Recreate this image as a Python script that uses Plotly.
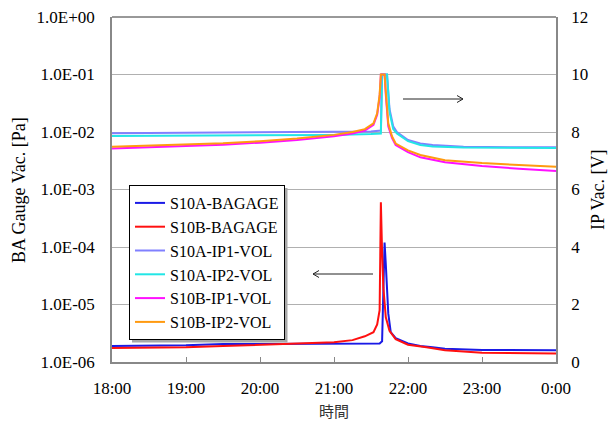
import plotly.graph_objects as go

# ---------------- data ----------------
a_ba_t = ["18:00", "18:30", "19:00", "19:30", "20:00", "20:30", "21:00", "21:30", "21:37", "21:39",
          "21:40", "21:41", "21:42", "21:43", "21:44", "21:46", "21:50", "22:00", "22:10", "22:20",
          "22:30", "23:00", "23:30", "24:00"]
a_ba_v = [1.9e-6, 1.9e-6, 1.95e-6, 2.05e-6, 2.05e-6, 2.05e-6, 2.08e-6, 2.1e-6, 2.1e-6, 2.3e-6,
          1.1e-5, 1.2e-4, 5e-5, 1.5e-5, 7e-6, 3.3e-6, 2.6e-6, 2.1e-6, 1.9e-6, 1.8e-6,
          1.7e-6, 1.62e-6, 1.6e-6, 1.6e-6]

b_ba_t = ["18:00", "18:30", "19:00", "19:30", "20:00", "20:30", "21:00", "21:15", "21:25", "21:32",
          "21:35", "21:37", "21:38", "21:39", "21:40", "21:42", "21:45", "21:50", "22:00", "22:15",
          "22:30", "23:00", "23:30", "24:00"]
b_ba_v = [1.75e-6, 1.75e-6, 1.8e-6, 1.9e-6, 2.0e-6, 2.1e-6, 2.2e-6, 2.4e-6, 2.8e-6, 3.3e-6,
          4.5e-6, 8e-6, 6.0e-4, 8e-5, 2e-5, 6e-6, 3.5e-6, 2.5e-6, 2.0e-6, 1.8e-6,
          1.6e-6, 1.45e-6, 1.42e-6, 1.4e-6]

a_ip_t = ["18:00", "19:00", "20:00", "21:00", "21:30", "21:38", "21:39", "21:43", "21:45", "21:48",
          "21:51", "22:00", "22:10", "22:20", "22:45", "23:30", "24:00"]
a_ip1_v = [7.96, 7.97, 7.98, 8.0, 8.02, 8.05, 10.0, 10.0, 8.8, 8.2,
           8.0, 7.72, 7.6, 7.55, 7.49, 7.47, 7.47]
a_ip2_v = [7.86, 7.87, 7.88, 7.9, 7.93, 7.95, 10.0, 10.0, 8.7, 8.1,
           7.95, 7.68, 7.55, 7.5, 7.46, 7.44, 7.44]

b_ip_t = ["18:00", "18:30", "19:00", "19:30", "20:00", "20:30", "21:00", "21:15", "21:25", "21:32",
          "21:35", "21:37", "21:38", "21:41", "21:42", "21:44", "21:47", "21:50", "22:00", "22:10",
          "22:30", "23:00", "23:30", "24:00"]
b_ip1_v = [7.43, 7.47, 7.51, 7.56, 7.63, 7.72, 7.85, 7.95, 8.05, 8.25,
           8.6, 9.2, 10.0, 10.0, 9.3, 8.2, 7.8, 7.55, 7.3, 7.12,
           6.95, 6.82, 6.72, 6.64]
b_ip2_v = [7.49, 7.53, 7.57, 7.61, 7.68, 7.77, 7.9, 8.0, 8.1, 8.3,
           8.65, 9.3, 10.0, 10.0, 9.4, 8.3, 7.85, 7.6, 7.36, 7.2,
           7.02, 6.92, 6.85, 6.79]

x_ticks = ["18:00", "19:00", "20:00", "21:00", "22:00", "23:00", "0:00"]
y_left_ticks = ["1.0E-06", "1.0E-05", "1.0E-04", "1.0E-03", "1.0E-02", "1.0E-01", "1.0E+00"]
y_right_ticks = ["0", "2", "4", "6", "8", "10", "12"]


def hrs(lst):
    out = []
    for s in lst:
        h, m = s.split(":")
        out.append(int(h) - 18 + int(m) / 60.0)
    return out


# ---------------- layout geometry ----------------
W, H = 610, 422
L, R, T, B = 112, 556, 17, 362
PW, PH = R - L, B - T


def px(x):
    return (x - L) / PW


def py(y):
    return (B - y) / PH


FONT = "Liberation Serif, Times New Roman, serif"

fig = go.Figure()
series = [
    ("S10A-BAGAGE", a_ba_t, a_ba_v, "#1a1ae6", "y"),
    ("S10B-BAGAGE", b_ba_t, b_ba_v, "#ff1010", "y"),
    ("S10A-IP1-VOL", a_ip_t, a_ip1_v, "#8080ff", "y2"),
    ("S10A-IP2-VOL", a_ip_t, a_ip2_v, "#22e6e6", "y2"),
    ("S10B-IP1-VOL", b_ip_t, b_ip1_v, "#ff10ff", "y2"),
    ("S10B-IP2-VOL", b_ip_t, b_ip2_v, "#ff9a10", "y2"),
]
for name, t, v, c, ax in series:
    fig.add_trace(go.Scatter(x=hrs(t), y=v, name=name, mode="lines",
                             line=dict(color=c, width=2), yaxis=ax))

shapes = []
# top border line
shapes.append(dict(type="line", xref="paper", yref="paper", x0=0, x1=1, y0=1, y1=1,
                   line=dict(color="#333333", width=1), layer="above"))


def arrow(x_tail, x_head, y):
    d = 6 if x_head > x_tail else -6
    return [
        dict(type="line", xref="paper", yref="paper", x0=px(x_tail), x1=px(x_head),
             y0=py(y), y1=py(y), line=dict(color="#222222", width=1)),
        dict(type="line", xref="paper", yref="paper", x0=px(x_head), x1=px(x_head - d),
             y0=py(y), y1=py(y - 3.5), line=dict(color="#222222", width=1)),
        dict(type="line", xref="paper", yref="paper", x0=px(x_head), x1=px(x_head - d),
             y0=py(y), y1=py(y + 3.5), line=dict(color="#222222", width=1)),
    ]


shapes += arrow(403, 463, 99)
shapes += arrow(373, 313, 274)
# legend shadow
shapes.append(dict(type="rect", xref="paper", yref="paper", x0=px(132), x1=px(287.5),
                   y0=py(342.5), y1=py(188), fillcolor="#a8a8a8", line=dict(width=0),
                   layer="above"))

annotations = [
    dict(text="BA Gauge Vac. [Pa]", xref="paper", yref="paper", x=px(19), y=py(190),
         textangle=-90, showarrow=False, font=dict(family=FONT, size=18, color="#000"),
         xanchor="center", yanchor="middle"),
    dict(text="IP Vac. [V]", xref="paper", yref="paper", x=px(598), y=py(190),
         textangle=-90, showarrow=False, font=dict(family=FONT, size=18, color="#000"),
         xanchor="center", yanchor="middle"),
    dict(text="時間", xref="paper", yref="paper", x=px(334), y=py(410),
         showarrow=False, font=dict(family="Noto Sans CJK JP", size=15, color="#333"),
         xanchor="center", yanchor="middle"),
]

fig.update_layout(
    width=W, height=H,
    margin=dict(l=L, r=W - R, t=T, b=H - B, pad=0, autoexpand=False),
    paper_bgcolor="white", plot_bgcolor="white",
    font=dict(family=FONT, size=17, color="#000"),
    showlegend=True,
    legend=dict(x=px(129), y=py(185), xanchor="left", yanchor="top",
                bgcolor="white", bordercolor="#000", borderwidth=1,
                font=dict(family=FONT, size=16, color="#000"),
                tracegroupgap=0, itemwidth=30),
    xaxis=dict(range=[0, 6], tickvals=list(range(7)), ticktext=x_ticks, automargin=False,
               showgrid=False, zeroline=False, showline=True, linecolor="#888888",
               linewidth=1.5, ticks="inside", ticklen=5, tickcolor="#888888",
               ticklabelstandoff=10, tickfont=dict(family=FONT, size=17)),
    yaxis=dict(type="log", range=[-6, 0], tickvals=[10.0 ** k for k in range(-6, 1)],
               ticktext=y_left_ticks, showgrid=True, gridcolor="#b0b0b0", gridwidth=1,
               automargin=False,
               zeroline=False, showline=True, linecolor="#888888", linewidth=1.5,
               ticks="", ticklabelstandoff=12, tickfont=dict(family=FONT, size=17)),
    yaxis2=dict(range=[0, 12], tickvals=[0, 2, 4, 6, 8, 10, 12], ticktext=y_right_ticks,
                overlaying="y", side="right", showgrid=False, zeroline=False,
                automargin=False,
                showline=True, linecolor="#888888", linewidth=1.5, ticks="",
                ticklabelstandoff=10, tickfont=dict(family=FONT, size=17)),
    shapes=shapes,
    annotations=annotations,
)

fig.write_html("out.html", config={"displayModeBar": False},
               post_script="document.body.style.margin='0';document.body.style.padding='0';")
